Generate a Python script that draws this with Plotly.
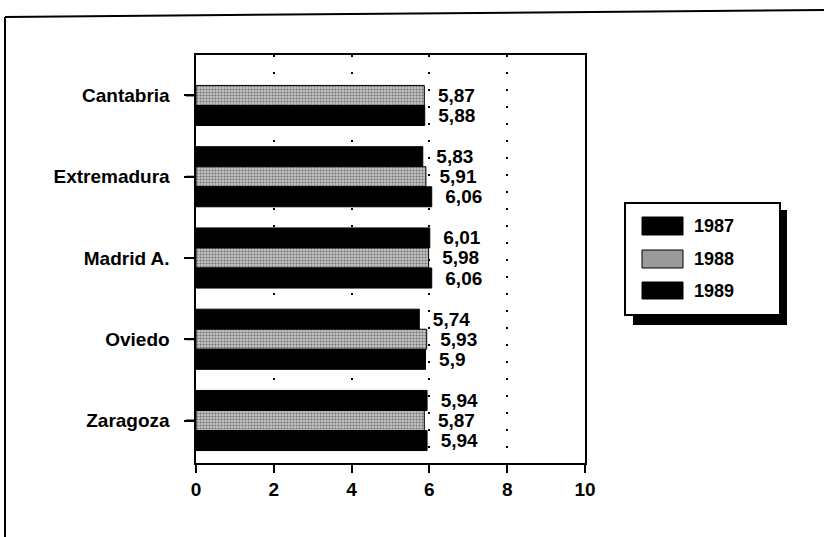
import plotly.graph_objects as go

categories = ["Cantabria", "Extremadura", "Madrid A.", "Oviedo", "Zaragoza"]
series_names = ["1987", "1988", "1989"]
v1987 = [None, 5.83, 6.01, 5.74, 5.94]
v1988 = [5.87, 5.91, 5.98, 5.93, 5.87]
v1989 = [5.88, 6.06, 6.06, 5.90, 5.94]
x_ticks = [0, 2, 4, 6, 8, 10]

FONT = "Liberation Sans"
FS = 19
W, H = 824, 537
L, R, T, B = 196, 585, 55, 463  # plot area in pixels


def px(x):
    return (x - L) / (R - L)


def py(y):
    return (B - y) / (B - T)


def lab(v):
    s = ("%.2f" % v).rstrip("0").rstrip(".")
    return "\u00a0\u00a0" + s.replace(".", ",")


def b(s):
    return "<b>" + s + "</b>"


fig = go.Figure()
styles = [
    dict(color="#000000", line=dict(color="#000000", width=1)),
    dict(color="#9a9a9a", line=dict(color="#000000", width=1),
         pattern=dict(shape=".", fgcolor="#202020", bgcolor="#c4c4c4", size=3, solidity=0.4)),
    dict(color="#000000", line=dict(color="#000000", width=1)),
]
for name, vals, st in zip(series_names, [v1987, v1988, v1989], styles):
    fig.add_trace(go.Bar(
        y=categories, x=vals, name=name, orientation="h",
        marker=st,
        text=[b(lab(v)) if v is not None else "" for v in vals], textposition="outside",
        textfont=dict(family=FONT, size=FS, color="#000"),
        constraintext="none", cliponaxis=False,
        showlegend=False,
    ))

fig.update_layout(
    width=W, height=H,
    margin=dict(l=L, r=W - R, t=T, b=H - B, pad=0),
    paper_bgcolor="white", plot_bgcolor="white",
    barmode="group", bargap=0.26, bargroupgap=0,
    font=dict(family=FONT, size=FS, color="#000"),
    xaxis=dict(range=[0, 10], tickvals=x_ticks, ticktext=[b(str(t)) for t in x_ticks],
               showline=True, linecolor="#000", linewidth=2, mirror=True,
               ticks="outside", ticklen=8, tickwidth=2, tickcolor="#000",
               showgrid=True, gridcolor="#000", gridwidth=2, griddash="2px,15px",
               zeroline=False, tickfont=dict(family=FONT, size=FS)),
    yaxis=dict(type="category", range=[4.523, -0.498],
               tickmode="array", tickvals=[0, 1, 2, 3, 4],
               ticktext=[b(c) + "\u00a0\u00a0" for c in categories],
               showline=True, linecolor="#000", linewidth=2, mirror=True,
               ticks="outside", ticklen=10, tickwidth=2, tickcolor="#000",
               showgrid=False, tickfont=dict(family=FONT, size=FS)),
)

shapes = []
# category tick marks on the y axis, placed through the category scale
for c in categories:
    shapes.append(dict(type="line", xref="paper", yref="y",
                       x0=-10 / (R - L), x1=0, y0=c, y1=c,
                       line=dict(color="#000", width=2)))
# outer frame (top and left)
shapes.append(dict(type="line", xref="paper", yref="paper",
                   x0=px(5), y0=py(17), x1=px(824), y1=py(10),
                   line=dict(color="#000", width=2)))
shapes.append(dict(type="line", xref="paper", yref="paper",
                   x0=px(5), y0=py(17), x1=px(5), y1=py(537),
                   line=dict(color="#000", width=2)))
# legend shadow and box
shapes.append(dict(type="rect", xref="paper", yref="paper",
                   x0=px(633), y0=py(210), x1=px(787), y1=py(325),
                   fillcolor="#000", line=dict(width=0)))
shapes.append(dict(type="rect", xref="paper", yref="paper",
                   x0=px(625), y0=py(203), x1=px(780), y1=py(315),
                   fillcolor="#fff", line=dict(color="#000", width=2)))
sw_y = [(217, 235), (250, 268), (282, 299)]
sw_fill = ["#000", "#9a9a9a", "#000"]
annotations = []
for (y0, y1), fc, nm in zip(sw_y, sw_fill, series_names):
    shapes.append(dict(type="rect", xref="paper", yref="paper",
                       x0=px(642), y0=py(y0), x1=px(683), y1=py(y1),
                       fillcolor=fc, line=dict(color="#000", width=1)))
    annotations.append(dict(xref="paper", yref="paper", x=px(692), y=py((y0 + y1) / 2),
                            text=b(nm), showarrow=False, xanchor="left", yanchor="middle",
                            font=dict(family=FONT, size=18, color="#000")))
fig.update_layout(shapes=shapes, annotations=annotations)

fig.write_html("out.html")
